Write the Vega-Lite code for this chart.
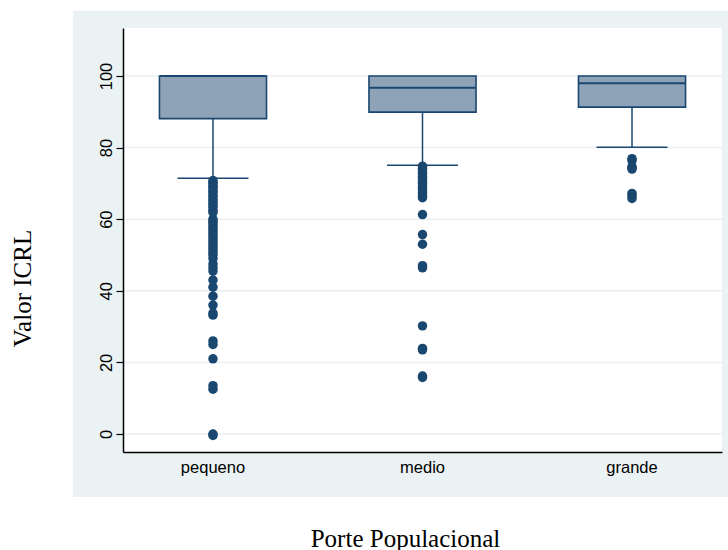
{
  "$schema": "https://vega.github.io/schema/vega-lite/v6.json",
  "width": 599,
  "height": 424,
  "autosize": {"type": "none"},
  "padding": {"left": 123, "top": 28, "right": 6, "bottom": 98},
  "background": "white",
  "config": {
    "view": {"stroke": null},
    "font": "Liberation Sans",
    "axisY": {"labelFontSize": 16.5, "labelColor": "black"},
    "axisLeft": {"labelFontSize": 16.5, "labelColor": "black"},
    "axisX": {
      "grid": false,
      "ticks": false,
      "domainColor": "black",
      "domainWidth": 1.5,
      "labelAngle": 0,
      "labelFontSize": 16.5,
      "labelColor": "black",
      "labelPadding": 7,
      "titleFont": "Liberation Serif",
      "titleFontSize": 25,
      "titleFontWeight": "normal",
      "titleColor": "black",
      "titleX": 282,
      "titleY": 94,
      "titleBaseline": "alphabetic",
      "titleAlign": "center"
    }
  },
  "datasets": {
    "boxes": [
      {"porte": "pequeno", "q1": 88.1, "mediana": 100, "q3": 100, "wlo": 71.4},
      {"porte": "medio", "q1": 89.9, "mediana": 96.7, "q3": 100, "wlo": 75.05},
      {"porte": "grande", "q1": 91.3, "mediana": 98.0, "q3": 100, "wlo": 80.1}
    ],
    "outliers": [
      {"porte": "pequeno", "valor": 70.8}, {"porte": "pequeno", "valor": 70.3}, {"porte": "pequeno", "valor": 69.8},
      {"porte": "pequeno", "valor": 69.2}, {"porte": "pequeno", "valor": 68.7}, {"porte": "pequeno", "valor": 68.0},
      {"porte": "pequeno", "valor": 67.5}, {"porte": "pequeno", "valor": 66.7}, {"porte": "pequeno", "valor": 66.0},
      {"porte": "pequeno", "valor": 65.3}, {"porte": "pequeno", "valor": 64.6}, {"porte": "pequeno", "valor": 64.0},
      {"porte": "pequeno", "valor": 63.3}, {"porte": "pequeno", "valor": 62.5}, {"porte": "pequeno", "valor": 61.9},
      {"porte": "pequeno", "valor": 60.0}, {"porte": "pequeno", "valor": 59.4}, {"porte": "pequeno", "valor": 58.8},
      {"porte": "pequeno", "valor": 58.0}, {"porte": "pequeno", "valor": 57.3}, {"porte": "pequeno", "valor": 56.7},
      {"porte": "pequeno", "valor": 56.0}, {"porte": "pequeno", "valor": 55.3}, {"porte": "pequeno", "valor": 54.5},
      {"porte": "pequeno", "valor": 53.8}, {"porte": "pequeno", "valor": 53.0}, {"porte": "pequeno", "valor": 52.2},
      {"porte": "pequeno", "valor": 51.5}, {"porte": "pequeno", "valor": 50.7}, {"porte": "pequeno", "valor": 50.0},
      {"porte": "pequeno", "valor": 49.0}, {"porte": "pequeno", "valor": 47.5}, {"porte": "pequeno", "valor": 46.5},
      {"porte": "pequeno", "valor": 45.5}, {"porte": "pequeno", "valor": 43.0}, {"porte": "pequeno", "valor": 41.0},
      {"porte": "pequeno", "valor": 38.5}, {"porte": "pequeno", "valor": 36.0}, {"porte": "pequeno", "valor": 33.8},
      {"porte": "pequeno", "valor": 33.2}, {"porte": "pequeno", "valor": 26.0}, {"porte": "pequeno", "valor": 25.0},
      {"porte": "pequeno", "valor": 21.0}, {"porte": "pequeno", "valor": 13.5}, {"porte": "pequeno", "valor": 12.5},
      {"porte": "pequeno", "valor": 0.0}, {"porte": "pequeno", "valor": -0.4},
      {"porte": "medio", "valor": 74.8}, {"porte": "medio", "valor": 74.2}, {"porte": "medio", "valor": 73.5},
      {"porte": "medio", "valor": 72.8}, {"porte": "medio", "valor": 72.0}, {"porte": "medio", "valor": 71.3},
      {"porte": "medio", "valor": 70.6}, {"porte": "medio", "valor": 70.0}, {"porte": "medio", "valor": 69.3},
      {"porte": "medio", "valor": 68.6}, {"porte": "medio", "valor": 68.0}, {"porte": "medio", "valor": 67.3},
      {"porte": "medio", "valor": 66.6}, {"porte": "medio", "valor": 66.0}, {"porte": "medio", "valor": 61.3},
      {"porte": "medio", "valor": 55.7}, {"porte": "medio", "valor": 53.0}, {"porte": "medio", "valor": 47.0},
      {"porte": "medio", "valor": 46.4}, {"porte": "medio", "valor": 30.2}, {"porte": "medio", "valor": 23.9},
      {"porte": "medio", "valor": 23.5}, {"porte": "medio", "valor": 16.2}, {"porte": "medio", "valor": 15.8},
      {"porte": "grande", "valor": 76.9}, {"porte": "grande", "valor": 76.4}, {"porte": "grande", "valor": 74.7},
      {"porte": "grande", "valor": 74.3}, {"porte": "grande", "valor": 74.0}, {"porte": "grande", "valor": 67.2},
      {"porte": "grande", "valor": 66.6}, {"porte": "grande", "valor": 65.8}
    ],
    "grade": [{"v": 0}, {"v": 20}, {"v": 40}, {"v": 60}, {"v": 80}, {"v": 100}]
  },
  "layer": [
    {
      "data": {"values": [{}]},
      "layer": [
        {
          "mark": {"type": "rect", "fill": "#EAF2F3"},
          "encoding": {
            "x": {"datum": -0.0835, "type": "quantitative", "scale": {"domain": [0, 1]}, "axis": null},
            "x2": {"datum": 1.01},
            "y": {"datum": -17.6, "type": "quantitative", "title": "Valor ICRL",
              "axis": {"zindex": 1, "grid": false, "values": [0, 20, 40, 60, 80, 100], "tickSize": 7, "tickColor": "black", "tickWidth": 1.2, "domainColor": "black", "domainWidth": 1.5, "labelAngle": -90, "labelAlign": "center", "labelBaseline": "alphabetic", "labelFontSize": 16.5, "labelColor": "black", "labelPadding": 5, "titleFont": "Liberation Serif", "titleFontSize": 25, "titleFontWeight": "normal", "titleColor": "black", "titleAngle": 270, "titleX": -93, "titleY": 260, "titleBaseline": "alphabetic", "titleAlign": "center"},
              "scale": {"domain": [-5.03, 113.4], "nice": false, "zero": false}},
            "y2": {"datum": 118.2}
          }
        },
        {
          "mark": {"type": "rect", "fill": "white"},
          "encoding": {
            "x": {"datum": 0, "type": "quantitative", "scale": {"domain": [0, 1]}, "axis": null},
            "x2": {"datum": 1},
            "y": {"datum": -5.03, "type": "quantitative", "title": "Valor ICRL",
              "axis": {"zindex": 1, "grid": false, "values": [0, 20, 40, 60, 80, 100], "tickSize": 7, "tickColor": "black", "tickWidth": 1.2, "domainColor": "black", "domainWidth": 1.5, "labelAngle": -90, "labelAlign": "center", "labelBaseline": "alphabetic", "labelFontSize": 16.5, "labelColor": "black", "labelPadding": 5, "titleFont": "Liberation Serif", "titleFontSize": 25, "titleFontWeight": "normal", "titleColor": "black", "titleAngle": 270, "titleX": -93, "titleY": 260, "titleBaseline": "alphabetic", "titleAlign": "center"},
              "scale": {"domain": [-5.03, 113.4], "nice": false, "zero": false}},
            "y2": {"datum": 113.4}
          }
        }
      ]
    },
    {
      "layer": [
        {
          "data": {"name": "grade"},
          "mark": {"type": "rule", "color": "#E8F0F2", "strokeWidth": 1.5},
          "encoding": {
            "y": {"field": "v", "type": "quantitative", "title": "Valor ICRL",
              "axis": {"zindex": 1, "grid": false, "values": [0, 20, 40, 60, 80, 100], "tickSize": 7, "tickColor": "black", "tickWidth": 1.2, "domainColor": "black", "domainWidth": 1.5, "labelAngle": -90, "labelAlign": "center", "labelBaseline": "alphabetic", "labelFontSize": 16.5, "labelColor": "black", "labelPadding": 5, "titleFont": "Liberation Serif", "titleFontSize": 25, "titleFontWeight": "normal", "titleColor": "black", "titleAngle": 270, "titleX": -93, "titleY": 260, "titleBaseline": "alphabetic", "titleAlign": "center"},
              "scale": {"domain": [-5.03, 113.4], "nice": false, "zero": false}}
          }
        },
        {
          "data": {"name": "boxes"},
          "mark": {"type": "rule", "color": "#1A476F", "strokeWidth": 1.5},
          "encoding": {
            "x": {"field": "porte", "type": "nominal", "title": "Porte Populacional", "axis": {"zindex": 1}, "scale": {"type": "band", "domain": ["pequeno", "medio", "grande"], "paddingInner": 0.489, "paddingOuter": 0.174}},
            "y": {"field": "wlo", "type": "quantitative", "title": "Valor ICRL",
              "axis": {"zindex": 1, "grid": false, "values": [0, 20, 40, 60, 80, 100], "tickSize": 7, "tickColor": "black", "tickWidth": 1.2, "domainColor": "black", "domainWidth": 1.5, "labelAngle": -90, "labelAlign": "center", "labelBaseline": "alphabetic", "labelFontSize": 16.5, "labelColor": "black", "labelPadding": 5, "titleFont": "Liberation Serif", "titleFontSize": 25, "titleFontWeight": "normal", "titleColor": "black", "titleAngle": 270, "titleX": -93, "titleY": 260, "titleBaseline": "alphabetic", "titleAlign": "center"},
              "scale": {"domain": [-5.03, 113.4], "nice": false, "zero": false}},
            "y2": {"field": "q1"}
          }
        },
        {
          "data": {"name": "boxes"},
          "mark": {"type": "bar", "fill": "#8EA3B8", "stroke": "#1A476F", "strokeWidth": 1.6},
          "encoding": {
            "x": {"field": "porte", "type": "nominal", "title": "Porte Populacional", "axis": {"zindex": 1}, "scale": {"type": "band", "domain": ["pequeno", "medio", "grande"], "paddingInner": 0.489, "paddingOuter": 0.174}},
            "y": {"field": "q1", "type": "quantitative", "title": "Valor ICRL",
              "axis": {"zindex": 1, "grid": false, "values": [0, 20, 40, 60, 80, 100], "tickSize": 7, "tickColor": "black", "tickWidth": 1.2, "domainColor": "black", "domainWidth": 1.5, "labelAngle": -90, "labelAlign": "center", "labelBaseline": "alphabetic", "labelFontSize": 16.5, "labelColor": "black", "labelPadding": 5, "titleFont": "Liberation Serif", "titleFontSize": 25, "titleFontWeight": "normal", "titleColor": "black", "titleAngle": 270, "titleX": -93, "titleY": 260, "titleBaseline": "alphabetic", "titleAlign": "center"},
              "scale": {"domain": [-5.03, 113.4], "nice": false, "zero": false}},
            "y2": {"field": "q3"}
          }
        },
        {
          "data": {"name": "boxes"},
          "mark": {"type": "tick", "color": "#1A476F", "size": 106, "thickness": 2, "opacity": 1},
          "encoding": {
            "x": {"field": "porte", "type": "nominal", "title": "Porte Populacional", "axis": {"zindex": 1}, "scale": {"type": "band", "domain": ["pequeno", "medio", "grande"], "paddingInner": 0.489, "paddingOuter": 0.174}},
            "y": {"field": "mediana", "type": "quantitative", "title": "Valor ICRL",
              "axis": {"zindex": 1, "grid": false, "values": [0, 20, 40, 60, 80, 100], "tickSize": 7, "tickColor": "black", "tickWidth": 1.2, "domainColor": "black", "domainWidth": 1.5, "labelAngle": -90, "labelAlign": "center", "labelBaseline": "alphabetic", "labelFontSize": 16.5, "labelColor": "black", "labelPadding": 5, "titleFont": "Liberation Serif", "titleFontSize": 25, "titleFontWeight": "normal", "titleColor": "black", "titleAngle": 270, "titleX": -93, "titleY": 260, "titleBaseline": "alphabetic", "titleAlign": "center"},
              "scale": {"domain": [-5.03, 113.4], "nice": false, "zero": false}}
          }
        },
        {
          "data": {"name": "boxes"},
          "mark": {"type": "tick", "color": "#1A476F", "size": 71, "thickness": 1.5, "opacity": 1},
          "encoding": {
            "x": {"field": "porte", "type": "nominal", "title": "Porte Populacional", "axis": {"zindex": 1}, "scale": {"type": "band", "domain": ["pequeno", "medio", "grande"], "paddingInner": 0.489, "paddingOuter": 0.174}},
            "y": {"field": "wlo", "type": "quantitative", "title": "Valor ICRL",
              "axis": {"zindex": 1, "grid": false, "values": [0, 20, 40, 60, 80, 100], "tickSize": 7, "tickColor": "black", "tickWidth": 1.2, "domainColor": "black", "domainWidth": 1.5, "labelAngle": -90, "labelAlign": "center", "labelBaseline": "alphabetic", "labelFontSize": 16.5, "labelColor": "black", "labelPadding": 5, "titleFont": "Liberation Serif", "titleFontSize": 25, "titleFontWeight": "normal", "titleColor": "black", "titleAngle": 270, "titleX": -93, "titleY": 260, "titleBaseline": "alphabetic", "titleAlign": "center"},
              "scale": {"domain": [-5.03, 113.4], "nice": false, "zero": false}}
          }
        },
        {
          "data": {"name": "outliers"},
          "mark": {"type": "circle", "color": "#1A476F", "size": 90, "opacity": 1},
          "encoding": {
            "x": {"field": "porte", "type": "nominal", "title": "Porte Populacional", "axis": {"zindex": 1}, "scale": {"type": "band", "domain": ["pequeno", "medio", "grande"], "paddingInner": 0.489, "paddingOuter": 0.174}},
            "y": {"field": "valor", "type": "quantitative", "title": "Valor ICRL",
              "axis": {"zindex": 1, "grid": false, "values": [0, 20, 40, 60, 80, 100], "tickSize": 7, "tickColor": "black", "tickWidth": 1.2, "domainColor": "black", "domainWidth": 1.5, "labelAngle": -90, "labelAlign": "center", "labelBaseline": "alphabetic", "labelFontSize": 16.5, "labelColor": "black", "labelPadding": 5, "titleFont": "Liberation Serif", "titleFontSize": 25, "titleFontWeight": "normal", "titleColor": "black", "titleAngle": 270, "titleX": -93, "titleY": 260, "titleBaseline": "alphabetic", "titleAlign": "center"},
              "scale": {"domain": [-5.03, 113.4], "nice": false, "zero": false}}
          }
        }
      ]
    }
  ],
  "resolve": {"scale": {"x": "independent"}}
}
